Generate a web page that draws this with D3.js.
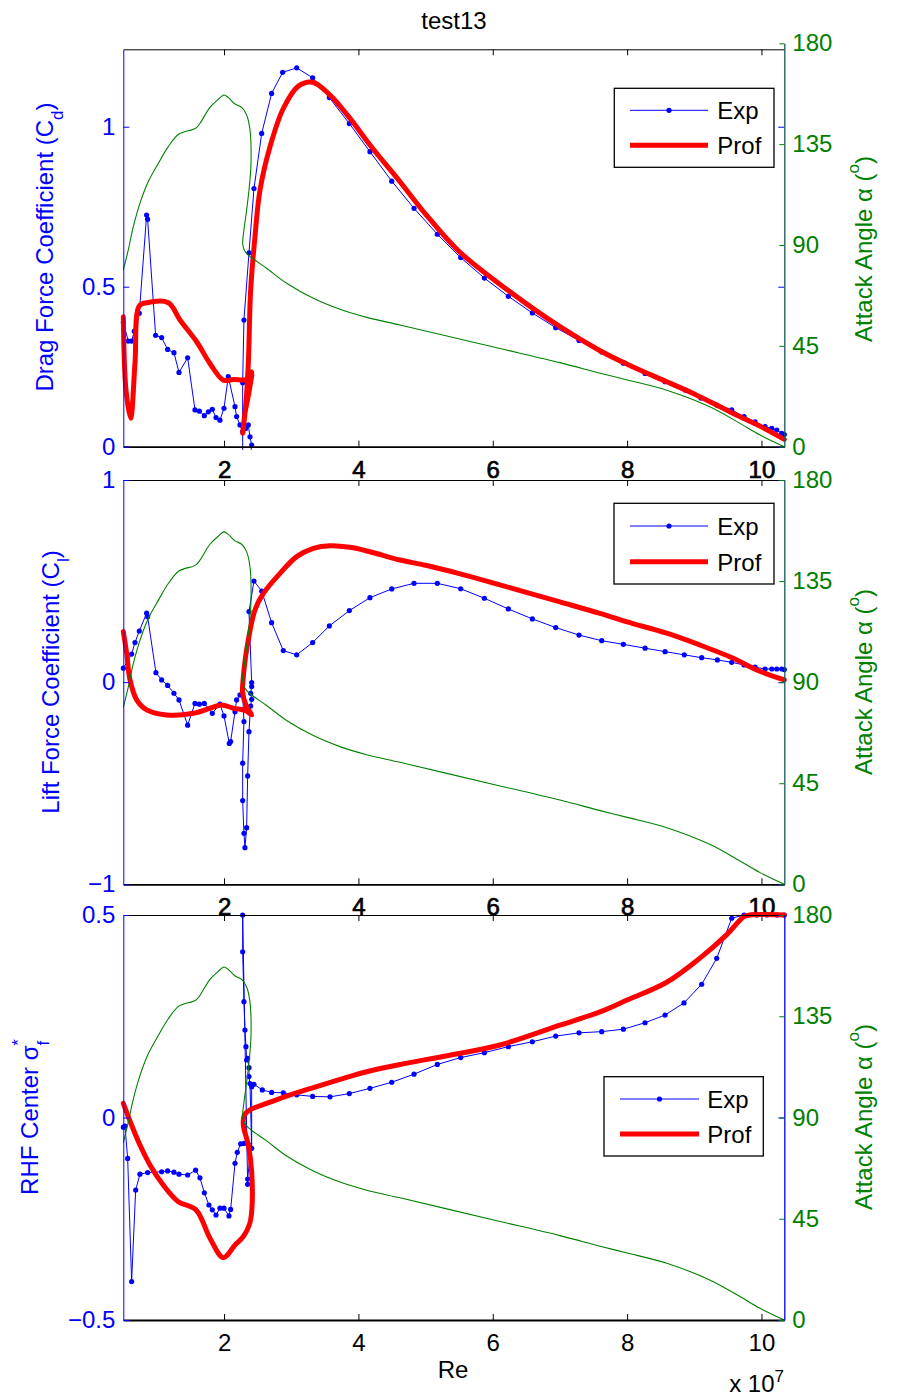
<!DOCTYPE html>
<html>
<head>
<meta charset="utf-8">
<script src="https://cdn.jsdelivr.net/npm/d3@7"></script>
<style>
  body { margin: 0; background: #fff; }
  svg text { font-family: "Liberation Sans", Arial, Helvetica, sans-serif; }
</style>
</head>
<body>
<div id="chart"></div>
<script>
// Re values are in units of 1e7
const reDomain = [0.5, 10.34]
const reTicks = [2, 4, 6, 8, 10]
const angleTicks = [0, 45, 90, 135, 180]
const cdTicks = [0, 0.5, 1]
const clTicks = [-1, 0, 1]
const sigTicks = [-0.5, 0, 0.5]

// attack angle (deg) vs Re, same curve on every panel
const attackAngle = [
  [0.5, 78.8], [0.574, 87.8], [0.649, 98.2], [0.748, 108.6], [0.872, 118.3], [1.021, 126.4],
  [1.17, 133.9], [1.329, 139.5], [1.577, 142.1], [1.641, 144.3], [1.79, 151.4], [1.914, 155],
  [1.999, 156.9], [2.063, 155.8], [2.163, 152.9], [2.262, 151.4], [2.336, 148], [2.386, 141.3],
  [2.401, 126.4], [2.376, 116], [2.336, 105.6], [2.296, 96.7], [2.277, 90.7], [2.301, 87.8],
  [2.361, 85.5], [2.634, 79.6], [2.932, 72.9], [3.329, 66.2], [3.726, 61.3], [4.123, 57.7],
  [4.619, 54.3], [5.3, 49.5], [6.108, 43.8], [7.0, 37.5], [7.597, 32.8], [8.0, 29.8],
  [8.59, 25.2], [9.23, 17.8], [9.68, 10.4], [9.98, 5.2], [10.34, 0]
]

const cdExp = [
  [0.5, 0.389], [0.574, 0.33], [0.624, 0.33], [0.664, 0.361], [0.738, 0.417], [0.847, 0.724],
  [0.862, 0.711], [0.981, 0.348], [1.071, 0.341], [1.16, 0.304], [1.254, 0.294], [1.329, 0.232],
  [1.458, 0.278], [1.567, 0.115], [1.632, 0.111], [1.706, 0.097], [1.766, 0.109], [1.825, 0.117],
  [1.88, 0.091], [1.939, 0.083], [1.999, 0.12], [2.063, 0.219], [2.163, 0.125], [2.187, 0.094],
  [2.237, 0.068], [2.277, 0.047], [2.321, 0.057], [2.361, 0.068], [2.386, 0.031], [2.411, 0.005],
  [2.386, -0.04], [2.277, -0.05], [2.277, 0.2], [2.296, 0.396], [2.371, 0.606], [2.445, 0.807],
  [2.56, 0.979], [2.708, 1.104], [2.872, 1.17], [3.081, 1.184], [3.319, 1.153], [3.567, 1.091],
  [3.865, 1.01], [4.172, 0.922], [4.496, 0.83], [4.828, 0.745], [5.175, 0.664], [5.523, 0.591],
  [5.875, 0.527], [6.232, 0.47], [6.589, 0.418], [6.937, 0.372], [7.284, 0.332], [7.622, 0.296],
  [7.944, 0.261], [8.267, 0.229], [8.565, 0.203], [8.862, 0.177], [9.1, 0.152], [9.334, 0.13],
  [9.557, 0.115], [9.741, 0.094], [9.905, 0.078], [10.054, 0.0625], [10.153, 0.057],
  [10.228, 0.052], [10.302, 0.042], [10.34, 0.038]
]
const cdProf = [
  [0.5, 0.406], [0.54, 0.177], [0.609, 0.089], [0.674, 0.26], [0.738, 0.44], [0.847, 0.45],
  [1.17, 0.45], [1.344, 0.396], [1.592, 0.328], [1.79, 0.26], [1.989, 0.208], [2.138, 0.21],
  [2.321, 0.21], [2.361, 0.219], [2.411, 0.234], [2.376, 0.177], [2.311, 0.104], [2.277, 0.042],
  [2.321, 0.125], [2.361, 0.26], [2.396, 0.49], [2.46, 0.656], [2.535, 0.802], [2.684, 0.9375],
  [2.882, 1.057], [3.106, 1.127], [3.319, 1.139], [3.577, 1.099], [3.875, 1.026], [4.172, 0.943],
  [4.619, 0.828], [5.0, 0.727], [5.5, 0.61], [6.232, 0.488], [7.0, 0.375], [7.597, 0.3],
  [8.0, 0.258], [8.59, 0.203], [9.0, 0.165], [9.58, 0.104], [10.0, 0.062], [10.34, 0.023]
]

const clExp = [
  [0.5, 0.069], [0.624, 0.139], [0.674, 0.196], [0.738, 0.253], [0.847, 0.341], [0.862, 0.324],
  [0.986, 0.047], [1.071, 0.011], [1.16, -0.016], [1.254, -0.055], [1.329, -0.088], [1.458, -0.213],
  [1.567, -0.105], [1.632, -0.109], [1.706, -0.105], [1.825, -0.154], [1.939, -0.109], [1.999, -0.167],
  [2.078, -0.303], [2.098, -0.294], [2.163, -0.146], [2.187, -0.088], [2.237, -0.063], [2.277, -0.055],
  [2.296, -0.195], [2.277, -0.401], [2.277, -0.586], [2.296, -0.748], [2.311, -0.819], [2.336, -0.72],
  [2.351, -0.464], [2.371, -0.245], [2.396, -0.118], [2.411, -0.085], [2.396, -0.055], [2.411, -0.022],
  [2.411, -0.002], [2.371, 0.349], [2.445, 0.5], [2.56, 0.451], [2.708, 0.294], [2.882, 0.156],
  [3.081, 0.135], [3.319, 0.196], [3.567, 0.278], [3.865, 0.354], [4.172, 0.418], [4.496, 0.461],
  [4.828, 0.489], [5.175, 0.489], [5.523, 0.462], [5.875, 0.415], [6.232, 0.362], [6.589, 0.313],
  [6.937, 0.27], [7.284, 0.233], [7.622, 0.205], [7.944, 0.187], [8.267, 0.168], [8.565, 0.151],
  [8.852, 0.135], [9.11, 0.121], [9.344, 0.11], [9.557, 0.098], [9.741, 0.085], [9.905, 0.074],
  [10.054, 0.065], [10.153, 0.065], [10.228, 0.065], [10.302, 0.065], [10.34, 0.062]
]
const clProf = [
  [0.5, 0.25], [0.55, 0.143], [0.6, 0.011], [0.699, -0.088], [0.847, -0.137], [1.145, -0.162],
  [1.542, -0.154], [1.79, -0.129], [1.964, -0.113], [2.138, -0.129], [2.321, -0.141], [2.411, -0.162],
  [2.336, -0.121], [2.277, -0.055], [2.287, 0.027], [2.321, 0.127], [2.361, 0.209], [2.46, 0.357],
  [2.585, 0.439], [2.833, 0.538], [3.081, 0.621], [3.329, 0.662], [3.577, 0.675], [3.875, 0.667],
  [4.172, 0.645], [4.619, 0.604], [5.0, 0.578], [5.5, 0.537], [6.108, 0.481], [7.0, 0.397],
  [7.597, 0.34], [8.0, 0.298], [8.59, 0.242], [9.08, 0.184], [9.58, 0.118], [9.93, 0.06], [10.34, 0.011]
]

const sigExp = [
  [0.5, -0.024], [0.525, -0.021], [0.565, -0.101], [0.624, -0.405], [0.684, -0.179], [0.748, -0.14],
  [0.862, -0.136], [1.071, -0.134], [1.16, -0.132], [1.254, -0.135], [1.329, -0.14], [1.458, -0.142],
  [1.577, -0.13], [1.641, -0.149], [1.706, -0.186], [1.775, -0.216], [1.825, -0.228], [1.88, -0.241],
  [1.939, -0.224], [1.999, -0.224], [2.073, -0.243], [2.098, -0.227], [2.163, -0.113], [2.197, -0.086],
  [2.247, -0.065], [2.296, -0.064], [2.361, -0.066], [2.396, -0.076], [2.351, -0.152], [2.351, -0.165],
  [2.277, 0.5], [2.277, 0.409], [2.296, 0.286], [2.311, 0.216], [2.326, 0.175], [2.336, 0.142],
  [2.351, 0.146], [2.371, 0.123], [2.371, 0.101], [2.386, 0.084], [2.411, -0.076], [2.411, 0.076],
  [2.445, 0.082], [2.57, 0.068], [2.708, 0.062], [2.882, 0.061], [3.081, 0.056], [3.319, 0.052],
  [3.577, 0.051], [3.865, 0.059], [4.172, 0.072], [4.496, 0.087], [4.828, 0.107], [5.175, 0.131],
  [5.523, 0.148], [5.875, 0.16], [6.232, 0.175], [6.589, 0.187], [6.937, 0.201], [7.284, 0.209],
  [7.622, 0.212], [7.944, 0.218], [8.267, 0.234], [8.565, 0.253], [8.847, 0.283], [9.11, 0.329],
  [9.334, 0.393], [9.557, 0.492], [9.741, 0.5], [9.93, 0.5], [10.08, 0.5], [10.23, 0.5], [10.34, 0.5]
]
const sigProf = [
  [0.5, 0.035], [0.624, -0.019], [0.748, -0.068], [0.897, -0.117], [1.096, -0.167], [1.319, -0.208],
  [1.582, -0.228], [1.79, -0.298], [1.989, -0.346], [2.163, -0.315], [2.287, -0.294], [2.376, -0.265],
  [2.411, -0.233], [2.411, -0.134], [2.361, -0.068], [2.287, -0.019], [2.301, 0.006], [2.386, 0.019],
  [2.634, 0.035], [2.932, 0.053], [3.329, 0.074], [3.726, 0.094], [4.123, 0.113], [4.619, 0.131],
  [5.3, 0.152], [6.108, 0.179], [7.0, 0.228], [7.597, 0.261], [8.0, 0.29], [8.59, 0.334],
  [9.08, 0.393], [9.48, 0.451], [9.74, 0.496], [9.83, 0.5], [10.34, 0.5]
]

const width = 898
const height = 1399
const plotLeft = 123.3
const plotRight = 784.3
const font = 24
const blue = "#0000ff"
const red = "#ff0000"
const green = "#008000"

const panels = [
  {
    top: 49.3, bottom: 446.7, rightTop: 43.3, domain: [0, 1.242], ticks: cdTicks,
    exp: cdExp, prof: cdProf, boldTicks: true, rightLine: "#145c5c",
    ylabel: { x: 52.7, y: 247, main: "Drag Force Coefficient (C", sub: "d", tail: ")" },
    alabelY: 249,
    legend: { x: 614.3, y: 88.3, w: 159.7, h: 79, x1: 630, x2: 708, tx: 717.3, e: 110.3, p: 145.3 },
  },
  {
    top: 480, bottom: 884.3, rightTop: 480, domain: [-1, 1], ticks: clTicks,
    exp: clExp, prof: clProf, boldTicks: true, rightLine: "#145c5c",
    ylabel: { x: 59, y: 682, main: "Lift Force Coefficient (C", sub: "l", tail: ")" },
    alabelY: 682,
    legend: { x: 614, y: 503.3, w: 160, h: 80.7, x1: 630, x2: 708, tx: 717.3, e: 526, p: 561.7 },
  },
  {
    top: 915, bottom: 1320, rightTop: 915, domain: [-0.5, 0.5], ticks: sigTicks,
    exp: sigExp, prof: sigProf, boldTicks: false, rightLine: blue,
    ylabel: { x: 38.3, y: 1117, sigma: true },
    alabelY: 1117,
    legend: { x: 604, y: 1076.7, w: 159.3, h: 79.3, x1: 620, x2: 699, tx: 707.3, e: 1099, p: 1134 },
  },
]

const fmt = d => (d < 0 ? "\u2212" + Math.abs(d) : String(d))

const svg = d3
  .select("#chart")
  .append("svg")
  .attr("width", width)
  .attr("height", height)
  .style("background", "#fff")

const x = d3.scaleLinear().domain(reDomain).range([plotLeft, plotRight])

const styleAxis = (g, color) => {
  g.attr("font-size", font).attr("font-family", "Liberation Sans, Arial, sans-serif")
  g.selectAll(".tick line").attr("stroke", color)
  g.selectAll(".tick text").attr("fill", color)
}

panels.forEach((p, i) => {
  const y = d3.scaleLinear().domain(p.domain).range([p.bottom, p.top])
  const yR = d3.scaleLinear().domain([0, 180]).range([p.bottom, p.rightTop])

  const clipId = "clip" + i
  svg
    .append("clipPath")
    .attr("id", clipId)
    .append("rect")
    .attr("x", plotLeft - 3)
    .attr("y", p.top - 3)
    .attr("width", plotRight - plotLeft + 6)
    .attr("height", p.bottom - p.top + 6)

  const data = svg.append("g").attr("clip-path", `url(#${clipId})`)

  // Exp: thin blue line with dots
  data
    .append("path")
    .datum(p.exp)
    .attr("fill", "none")
    .attr("stroke", blue)
    .attr("stroke-width", 1)
    .attr("d", d3.line().x(d => x(d[0])).y(d => y(d[1])))
  data
    .append("g")
    .selectAll("circle")
    .data(p.exp)
    .enter()
    .append("circle")
    .attr("cx", d => x(d[0]))
    .attr("cy", d => y(d[1]))
    .attr("r", 2.6)
    .attr("fill", blue)

  // Prof: thick red line
  data
    .append("path")
    .datum(p.prof)
    .attr("fill", "none")
    .attr("stroke", red)
    .attr("stroke-width", 5)
    .attr("stroke-linejoin", "round")
    .attr("stroke-linecap", "round")
    .attr(
      "d",
      d3.line().curve(d3.curveCatmullRom.alpha(0.5)).x(d => x(d[0])).y(d => y(d[1]))
    )

  // attack angle on the right axis
  data
    .append("path")
    .datum(attackAngle)
    .attr("fill", "none")
    .attr("stroke", green)
    .attr("stroke-width", 1.1)
    .attr(
      "d",
      d3.line().curve(d3.curveCatmullRom.alpha(0.5)).x(d => x(d[0])).y(d => yR(d[1]))
    )

  // top / bottom x axes
  const gTop = svg
    .append("g")
    .attr("transform", `translate(0,${p.top})`)
    .call(d3.axisTop(x).tickValues(reTicks).tickSizeInner(-6).tickSizeOuter(0).tickFormat(""))
  gTop.select(".domain").attr("stroke", "#000")

  const gBot = svg
    .append("g")
    .attr("transform", `translate(0,${p.bottom})`)
    .call(
      d3.axisBottom(x).tickValues(reTicks).tickSizeInner(-6).tickSizeOuter(0).tickPadding(14)
        .tickFormat(d => String(d))
    )
  styleAxis(gBot, "#000")
  gBot.select(".domain").attr("stroke", "#000").attr("stroke-width", 1.8)
  if (p.boldTicks) gBot.selectAll(".tick text").attr("stroke", "#000").attr("stroke-width", 0.7)

  // left axis
  const gL = svg
    .append("g")
    .attr("transform", `translate(${plotLeft},0)`)
    .call(
      d3.axisLeft(y).tickValues(p.ticks).tickSizeInner(-6).tickSizeOuter(0).tickPadding(8)
        .tickFormat(fmt)
    )
  styleAxis(gL, blue)
  gL.select(".domain").attr("stroke", blue)

  // left-scale ticks mirrored on the right edge
  const gLm = svg
    .append("g")
    .attr("transform", `translate(${plotRight},0)`)
    .call(d3.axisRight(y).tickValues(p.ticks).tickSizeInner(-6).tickSizeOuter(0).tickFormat(""))
  gLm.select(".domain").remove()
  gLm.selectAll(".tick line").attr("stroke", blue)

  // right axis (attack angle)
  const gR = svg
    .append("g")
    .attr("transform", `translate(${plotRight},0)`)
    .call(
      d3.axisRight(yR).tickValues(angleTicks).tickSizeInner(-5).tickSizeOuter(0).tickPadding(8)
    )
  styleAxis(gR, green)
  gR.select(".domain").attr("stroke", p.rightLine).attr("stroke-width", 1.3)

  // left label
  const lab = svg
    .append("text")
    .attr("transform", `translate(${p.ylabel.x},${p.ylabel.y}) rotate(-90)`)
    .attr("text-anchor", "middle")
    .attr("font-size", font)
    .attr("fill", blue)
  if (p.ylabel.sigma) {
    lab.append("tspan").text("RHF Center \u03c3")
    lab.append("tspan").attr("font-size", 17).attr("dy", 11).text("f")
    lab.append("tspan").attr("font-size", 17).attr("dx", -5).attr("dy", -25).text("*")
  } else {
    lab.append("tspan").text(p.ylabel.main)
    lab.append("tspan").attr("font-size", 17).attr("dy", 10).text(p.ylabel.sub)
    lab.append("tspan").attr("dy", -10).text(p.ylabel.tail)
  }

  // right label
  const rl = svg
    .append("text")
    .attr("transform", `translate(871.7,${p.alabelY}) rotate(-90)`)
    .attr("text-anchor", "middle")
    .attr("font-size", font)
    .attr("fill", green)
  rl.append("tspan").text("Attack Angle \u03b1 (")
  rl.append("tspan").attr("font-size", 17).attr("dy", -13).text("o")
  rl.append("tspan").attr("dy", 13).text(")")

  // legend
  const L = p.legend
  const lg = svg.append("g")
  lg.append("rect")
    .attr("x", L.x)
    .attr("y", L.y)
    .attr("width", L.w)
    .attr("height", L.h)
    .attr("fill", "#fff")
    .attr("stroke", "#000")
    .attr("stroke-width", 1.3)
  lg.append("line")
    .attr("x1", L.x1).attr("x2", L.x2).attr("y1", L.e).attr("y2", L.e)
    .attr("stroke", blue).attr("stroke-width", 1)
  lg.append("circle")
    .attr("cx", (L.x1 + L.x2) / 2).attr("cy", L.e).attr("r", 2.6).attr("fill", blue)
  lg.append("line")
    .attr("x1", L.x1).attr("x2", L.x2).attr("y1", L.p).attr("y2", L.p)
    .attr("stroke", red).attr("stroke-width", 5)
  lg.append("text").attr("x", L.tx).attr("y", L.e + 9).attr("font-size", font).text("Exp")
  lg.append("text").attr("x", L.tx).attr("y", L.p + 9).attr("font-size", font).text("Prof")
})

svg
  .append("text")
  .attr("x", 454)
  .attr("y", 29)
  .attr("text-anchor", "middle")
  .attr("font-size", font)
  .text("test13")

svg
  .append("text")
  .attr("x", 453)
  .attr("y", 1378)
  .attr("text-anchor", "middle")
  .attr("font-size", font)
  .text("Re")

const ex = svg
  .append("text")
  .attr("x", 784)
  .attr("y", 1392)
  .attr("text-anchor", "end")
  .attr("font-size", font)
ex.append("tspan").text("x 10")
ex.append("tspan").attr("font-size", 17).attr("dy", -10).text("7")
</script>
</body>
</html>
